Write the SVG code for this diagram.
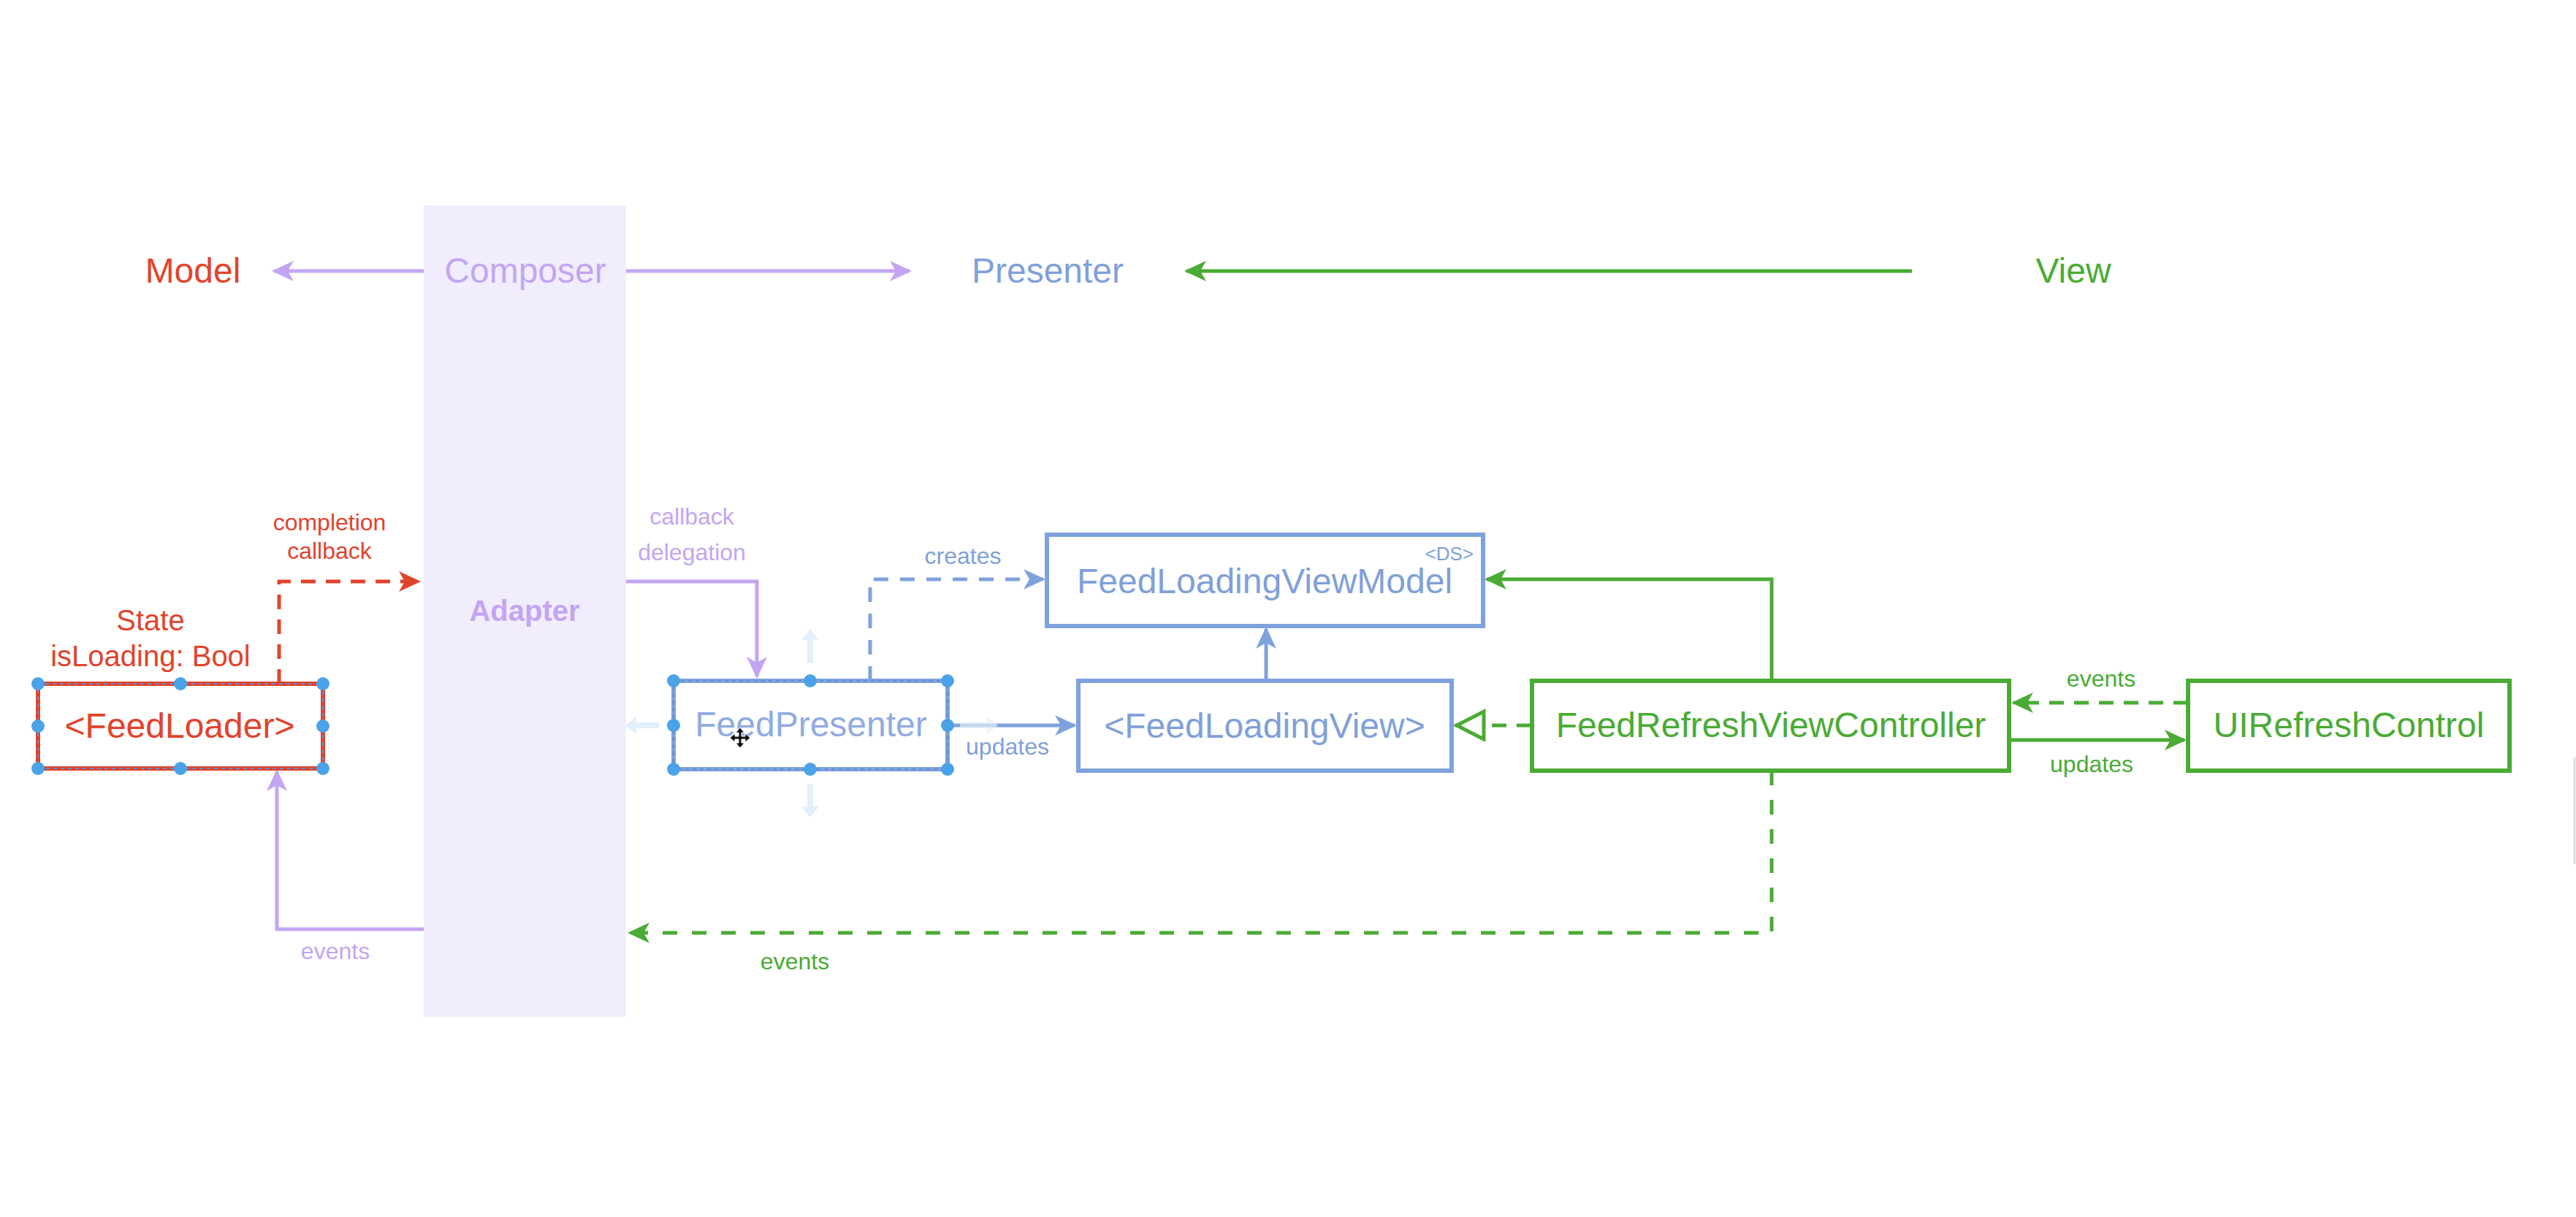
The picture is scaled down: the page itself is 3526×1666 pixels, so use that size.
<svg xmlns="http://www.w3.org/2000/svg" width="3526" height="1666" viewBox="0 0 3526 1666">
<style>
text{font-family:"Liberation Sans",Arial,Helvetica,sans-serif}
.big{font-size:48px}
.lbl{font-size:32px}
.red{fill:#e2432b}.pur{fill:#c3a5f3}.blu{fill:#7fa0da}.grn{fill:#4aab35}
.box{fill:#ffffff;stroke-width:6}
.ln{fill:none;stroke-width:5}
.sel{fill:none;stroke:#5d8fd6;stroke-width:2;stroke-dasharray:5 5}
.hd{fill:#4aa3e8}
.ghost{fill:#e2f0fb}
</style>
<defs>
<marker id="aR" markerUnits="userSpaceOnUse" markerWidth="34" markerHeight="32" refX="27" refY="14" orient="auto"><path d="M0,0 L30,14 L0,28 L8,14 Z" fill="#e2432b"/></marker>
<marker id="aP" markerUnits="userSpaceOnUse" markerWidth="34" markerHeight="32" refX="27" refY="14" orient="auto"><path d="M0,0 L30,14 L0,28 L8,14 Z" fill="#c3a5f3"/></marker>
<marker id="aB" markerUnits="userSpaceOnUse" markerWidth="34" markerHeight="32" refX="27" refY="14" orient="auto"><path d="M0,0 L30,14 L0,28 L8,14 Z" fill="#7fa2dd"/></marker>
<marker id="aG" markerUnits="userSpaceOnUse" markerWidth="34" markerHeight="32" refX="27" refY="14" orient="auto"><path d="M0,0 L30,14 L0,28 L8,14 Z" fill="#4aab35"/></marker>
<marker id="tG" markerUnits="userSpaceOnUse" markerWidth="48" markerHeight="50" refX="42" refY="22" orient="auto"><path d="M3,3 L40,22 L3,41 Z" fill="#ffffff" stroke="#4aab35" stroke-width="5"/></marker>
</defs>
<rect width="3526" height="1666" fill="#ffffff"/>

<g id="adapter">
<rect x="580" y="281" width="277" height="1111" fill="#f1edfd"/>
<text x="718" y="850" text-anchor="middle" font-size="40" font-weight="bold" class="pur">Adapter</text>
</g>

<g id="header">
<text id="model-label" x="264" y="387" text-anchor="middle" class="big red">Model</text>
<text id="composer-label" x="719" y="387" text-anchor="middle" class="big pur">Composer</text>
<text id="presenter-label" x="1434" y="387" text-anchor="middle" class="big blu">Presenter</text>
<text id="view-label" x="2838" y="387" text-anchor="middle" class="big grn">View</text>
</g>

<g id="connectors">
<path class="ln" stroke="#c3a5f3" d="M580,371 H375" marker-end="url(#aP)"/>
<path class="ln" stroke="#c3a5f3" d="M857,371 H1245" marker-end="url(#aP)"/>
<path class="ln" stroke="#4aab35" stroke-width="6" d="M2617,371 H1624" marker-end="url(#aG)"/>

<path class="ln" stroke="#e2432b" stroke-dasharray="20 14" d="M382,936 V796 H573" marker-end="url(#aR)"/>
<path class="ln" stroke="#c3a5f3" d="M857,796 H1036 V926" marker-end="url(#aP)"/>
<path class="ln" stroke="#7fa2dd" stroke-dasharray="20 16" d="M1191,932 V793 H1428" marker-end="url(#aB)"/>
<path class="ln" stroke="#7fa2dd" d="M1297,993 H1471" marker-end="url(#aB)"/>
<path class="ln" stroke="#7fa2dd" d="M1733,932 V861" marker-end="url(#aB)"/>
<path class="ln" stroke="#4aab35" d="M2425,932 V793 H2035" marker-end="url(#aG)"/>
<path class="ln" stroke="#4aab35" stroke-dasharray="20 14" d="M2096,993 H1992" marker-end="url(#tG)"/>
<path class="ln" stroke="#4aab35" stroke-dasharray="20 14" d="M2995,962 H2756" marker-end="url(#aG)"/>
<path class="ln" stroke="#4aab35" d="M2751,1013 H2990" marker-end="url(#aG)"/>
<path class="ln" stroke="#4aab35" stroke-dasharray="20 20" d="M2425,1055 V1277 H862" marker-end="url(#aG)"/>
<path class="ln" stroke="#c3a5f3" d="M580,1272 H379 V1056" marker-end="url(#aP)"/>

<text x="451" y="726" text-anchor="middle" class="lbl red">completion</text>
<text x="451" y="765" text-anchor="middle" class="lbl red">callback</text>
<text x="947" y="718" text-anchor="middle" class="lbl pur">callback</text>
<text x="947" y="767" text-anchor="middle" class="lbl pur">delegation</text>
<text x="1318" y="772" text-anchor="middle" class="lbl blu">creates</text>
<text x="1379" y="1033" text-anchor="middle" class="lbl blu">updates</text>
<text x="2876" y="940" text-anchor="middle" class="lbl grn">events</text>
<text x="2863" y="1057" text-anchor="middle" class="lbl grn">updates</text>
<text x="1088" y="1327" text-anchor="middle" class="lbl grn">events</text>
<text x="459" y="1313" text-anchor="middle" class="lbl pur">events</text>
</g>

<g id="feedloader">
<text x="206" y="863" text-anchor="middle" font-size="40" class="red">State</text>
<text x="206" y="912" text-anchor="middle" font-size="40" class="red">isLoading: Bool</text>
<rect class="box" stroke="#e2432b" x="52" y="936" width="390" height="116"/>
<rect class="sel" x="52" y="936" width="390" height="116"/>
<text x="246" y="1010" text-anchor="middle" class="big red">&lt;FeedLoader&gt;</text>
<circle class="hd" cx="52" cy="936" r="9"/><circle class="hd" cx="247" cy="936" r="9"/><circle class="hd" cx="442" cy="936" r="9"/>
<circle class="hd" cx="52" cy="994" r="9"/><circle class="hd" cx="442" cy="994" r="9"/>
<circle class="hd" cx="52" cy="1052" r="9"/><circle class="hd" cx="247" cy="1052" r="9"/><circle class="hd" cx="442" cy="1052" r="9"/>
</g>

<g id="feedpresenter">
<path class="ghost" d="M1109,861 L1121,876 L1113,876 L1113,908 L1105,908 L1105,876 L1097,876 Z"/>
<path class="ghost" d="M1109,1119 L1121,1104 L1113,1104 L1113,1073 L1105,1073 L1105,1104 L1097,1104 Z"/>
<path class="ghost" d="M856,993 L871,981 L871,989 L902,989 L902,997 L871,997 L871,1005 Z"/>
<path class="ghost" d="M1366,993 L1351,981 L1351,989 L1314,989 L1314,997 L1351,997 L1351,1005 Z" opacity="0.7"/>
<rect class="box" stroke="#7fa2dd" x="922" y="932" width="375" height="121"/>
<rect class="sel" x="922" y="932" width="375" height="121"/>
<text x="1110" y="1008" text-anchor="middle" class="big" fill="#90abe0">FeedPresenter</text>
<circle class="hd" cx="922" cy="932" r="9"/><circle class="hd" cx="1109" cy="932" r="9"/><circle class="hd" cx="1297" cy="932" r="9"/>
<circle class="hd" cx="922" cy="993" r="9"/><circle class="hd" cx="1297" cy="993" r="9"/>
<circle class="hd" cx="922" cy="1053" r="9"/><circle class="hd" cx="1109" cy="1053" r="9"/><circle class="hd" cx="1297" cy="1053" r="9"/>
<path d="M1013,996 L1019,1003 L1015,1003 L1015,1008 L1020,1008 L1020,1004 L1027,1010 L1020,1016 L1020,1012 L1015,1012 L1015,1017 L1019,1017 L1013,1024 L1007,1017 L1011,1017 L1011,1012 L1006,1012 L1006,1016 L999,1010 L1006,1004 L1006,1008 L1011,1008 L1011,1003 L1007,1003 Z" fill="#111111" stroke="#ffffff" stroke-width="1"/>
</g>

<g id="feedloadingviewmodel">
<rect class="box" stroke="#7fa2dd" x="1433" y="732" width="597" height="125"/>
<text x="1731" y="812" text-anchor="middle" class="big blu">FeedLoadingViewModel</text>
<text x="2017" y="767" text-anchor="end" font-size="26" class="blu">&lt;DS&gt;</text>
</g>

<g id="feedloadingview">
<rect class="box" stroke="#7fa2dd" x="1476" y="932" width="511" height="123"/>
<text x="1731" y="1010" text-anchor="middle" class="big blu">&lt;FeedLoadingView&gt;</text>
</g>

<g id="feedrefreshviewcontroller">
<rect class="box" stroke="#4aab35" x="2097" y="932" width="653" height="123"/>
<text x="2424" y="1009" text-anchor="middle" class="big grn">FeedRefreshViewController</text>
</g>

<g id="uirefreshcontrol">
<rect class="box" stroke="#4aab35" x="2995" y="932" width="440" height="123"/>
<text x="3215" y="1009" text-anchor="middle" class="big grn">UIRefreshControl</text>
</g>

<line x1="3524" y1="1037" x2="3524" y2="1183" stroke="#dcdcdc" stroke-width="3"/>
</svg>
